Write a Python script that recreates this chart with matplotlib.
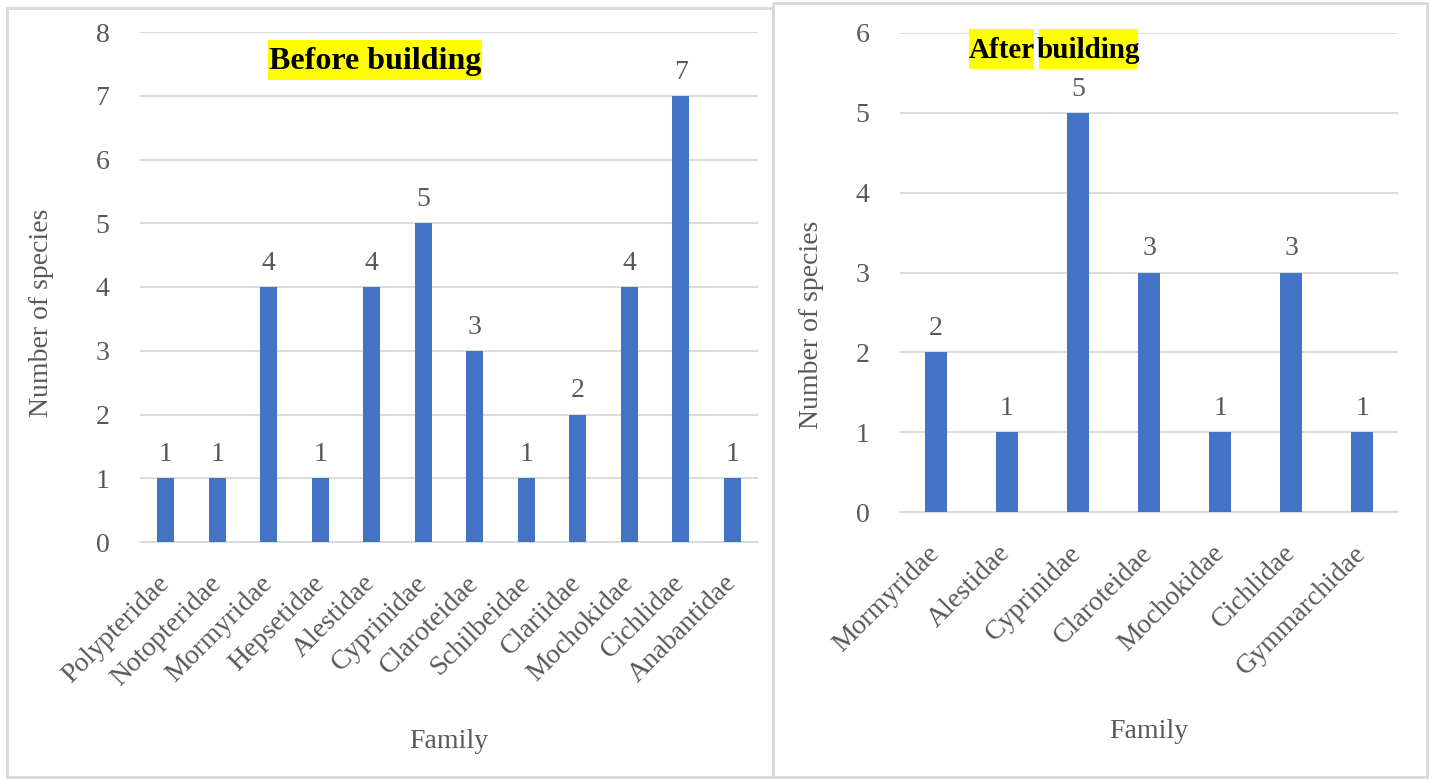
import matplotlib
matplotlib.use("Agg")
import matplotlib.pyplot as plt
from matplotlib.patches import Rectangle

before_families = ["Polypteridae", "Notopteridae", "Mormyridae", "Hepsetidae", "Alestidae",
                   "Cyprinidae", "Claroteidae", "Schilbeidae", "Clariidae", "Mochokidae",
                   "Cichlidae", "Anabantidae"]
before_counts = [1, 1, 4, 1, 4, 5, 3, 1, 2, 4, 7, 1]

after_families = ["Mormyridae", "Alestidae", "Cyprinidae", "Claroteidae", "Mochokidae",
                  "Cichlidae", "Gymmarchidae"]
after_counts = [2, 1, 5, 3, 1, 3, 1]

plt.rcParams['font.family'] = ['Liberation Serif', 'DejaVu Serif']
W, H = 1431, 780
fig = plt.figure(figsize=(W / 100, H / 100), dpi=100)

BAR = "#4472C4"
GRID = "#d9d9d9"
TXT = "#595959"


def px(x0, y0, x1, y1):
    # pixel box (top-left origin) -> figure fraction
    return [x0 / W, 1 - y1 / H, (x1 - x0) / W, (y1 - y0) / H]


def box(x0, y0, x1, y1, **kw):
    r = px(x0, y0, x1, y1)
    fig.patches.append(Rectangle((r[0], r[1]), r[2], r[3], transform=fig.transFigure, **kw))


# panel borders
box(7, 8, 773, 777, fill=False, edgecolor=GRID, linewidth=2)
box(773, 3, 1427, 777, fill=False, edgecolor=GRID, linewidth=2)


def draw(ax, cats, vals, ymax, width):
    x = range(len(cats))
    ax.bar(x, vals, width=width, color=BAR, zorder=3)
    ax.set_ylim(0, ymax)
    ax.set_xlim(-0.5, len(cats) - 0.5)
    ax.set_yticks(range(ymax + 1))
    ax.grid(axis="y", color=GRID, linewidth=1.3, zorder=0)
    for s in ["top", "right", "left"]:
        ax.spines[s].set_visible(False)
    ax.spines["bottom"].set_color(GRID)
    ax.spines["bottom"].set_linewidth(1.3)
    ax.tick_params(axis="y", length=0, labelsize=20, labelcolor=TXT, pad=22)
    ax.tick_params(axis="x", length=0, labelsize=20, labelcolor=TXT, pad=27)
    ax.set_xticks(list(x))
    ax.set_xticklabels(cats, rotation=45, ha="right", va="center", rotation_mode="anchor")
    for i, v in enumerate(vals):
        ax.annotate(str(v), (i, v), xytext=(0, 8), textcoords="offset points",
                    ha="center", va="bottom", fontsize=20, color=TXT)


ax1 = fig.add_axes(px(140, 32, 758, 542))
draw(ax1, before_families, before_counts, 8, 0.33)
ax2 = fig.add_axes(px(900, 33, 1398, 512))
draw(ax2, after_families, after_counts, 6, 0.31)

# yellow highlighted titles
box(268, 40, 482, 80, facecolor="yellow", edgecolor="none")
fig.text(375 / W, 1 - 61 / H, "Before building", ha="center", va="center",
         fontsize=23, fontweight="bold")
box(969, 29, 1034, 69, facecolor="yellow", edgecolor="none")
fig.text(1001.5 / W, 1 - 50 / H, "After", ha="center", va="center",
         fontsize=21, fontweight="bold")
box(1039, 29, 1137, 69, facecolor="yellow", edgecolor="none")
fig.text(1088 / W, 1 - 50 / H, "building", ha="center", va="center",
         fontsize=21, fontweight="bold")

fig.text(449 / W, 1 - 741 / H, "Family", ha="center", va="center", fontsize=20, color=TXT)
fig.text(1149 / W, 1 - 732 / H, "Family", ha="center", va="center", fontsize=20, color=TXT)
fig.text(42 / W, 1 - 313 / H, "Number of species", ha="center", va="center",
         rotation=90, fontsize=20, color=TXT)
fig.text(812 / W, 1 - 325 / H, "Number of species", ha="center", va="center",
         rotation=90, fontsize=20, color=TXT)

fig.savefig("out.png", dpi=100, facecolor="white")
